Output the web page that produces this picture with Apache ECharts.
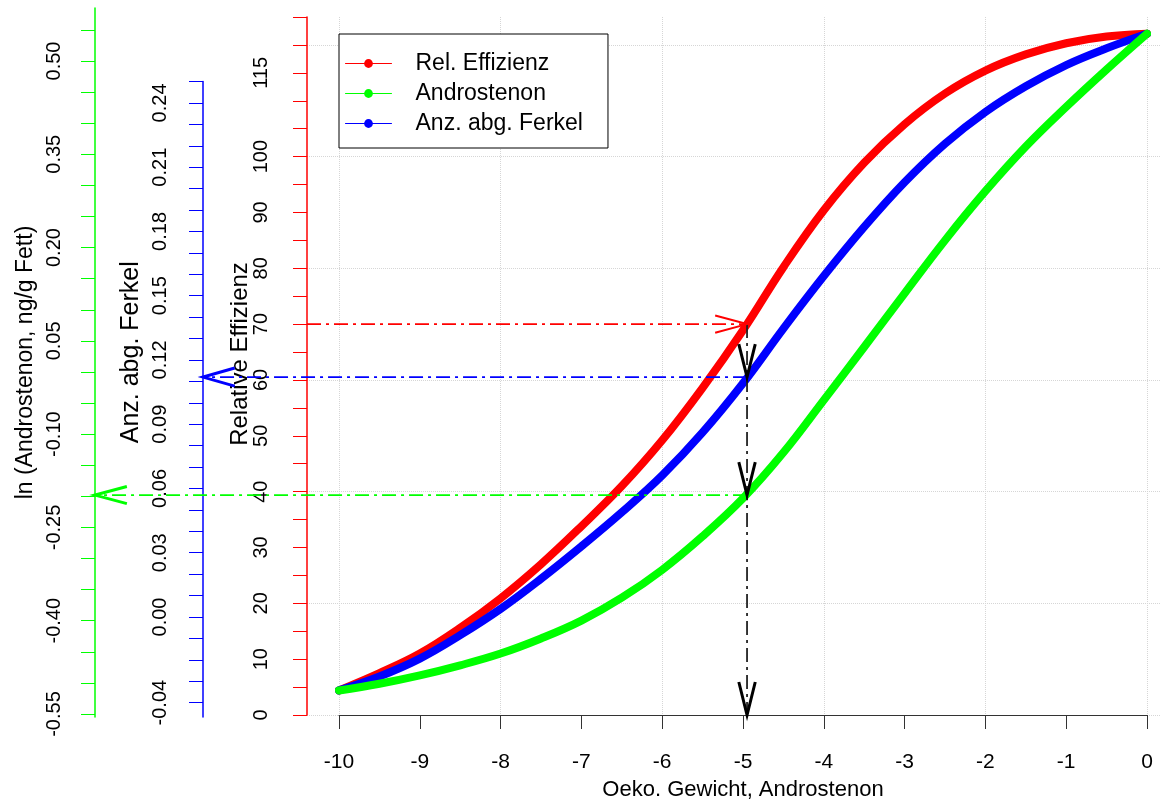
<!DOCTYPE html>
<html><head><meta charset="utf-8">
<script src="https://cdn.jsdelivr.net/npm/echarts@6/dist/echarts.min.js"></script>
<style>html,body{margin:0;padding:0;background:#fff}#c{width:1160px;height:805px}</style>
</head><body><div id="c"></div>
<script>
// ---- data ----
const xValues      = [-10, -9.5, -9, -8.5, -8, -7.5, -7, -6.5, -6, -5.5, -5, -4.5, -4, -3.5, -3, -2.5, -2, -1.5, -1, -0.5, 0];
const relEffizienz = [4.4, 7.5, 11.0, 15.6, 20.9, 27.0, 33.8, 41.0, 49.2, 58.6, 68.9, 80.2, 90.4, 98.9, 105.8, 111.3, 115.4, 118.3, 120.3, 121.5, 122.0];
const anzFerkel    = [4.4, 6.9, 10.1, 14.3, 19.0, 24.4, 30.2, 36.3, 42.9, 50.6, 59.4, 69.2, 78.6, 87.4, 95.4, 102.3, 108.0, 112.6, 116.4, 119.4, 122.0];
const androstenon  = [4.4, 5.6, 7.1, 8.9, 11.0, 13.7, 16.9, 21.0, 26.0, 32.0, 38.8, 47.0, 56.4, 65.9, 75.5, 85.0, 93.8, 101.8, 108.9, 115.6, 122.0];

const xTickStep       = 1;
const redTickLabels   = [0, 10, 20, 30, 40, 50, 60, 70, 80, 90, 100, 115];
const blueTickLabels  = [-0.04, 0.00, 0.03, 0.06, 0.09, 0.12, 0.15, 0.18, 0.21, 0.24];
const greenTickLabels = [-0.55, -0.40, -0.25, -0.10, 0.05, 0.20, 0.35, 0.50];
const blueTicks  = [-0.04,-0.03,-0.02,-0.01,0,0.01,0.02,0.03,0.04,0.05,0.06,0.07,0.08,0.09,0.10,0.11,0.12,0.13,0.14,0.15,0.16,0.17,0.18,0.19,0.20,0.21,0.22,0.23,0.24,0.25];
const greenTicks = [-0.55,-0.50,-0.45,-0.40,-0.35,-0.30,-0.25,-0.20,-0.15,-0.10,-0.05,0,0.05,0.10,0.15,0.20,0.25,0.30,0.35,0.40,0.45,0.50,0.55];

// read-off point and the levels on each axis
const lookupX    = -4.95;
const redLevel   = 70;
const blueLevel  = 0.112;
const greenLevel = -0.198;

const FONT = '"Liberation Sans", Arial, Helvetica, sans-serif';
const RED = '#ff0000', GREEN = '#00ff00', BLUE = '#0000ff';

const chart = echarts.init(document.getElementById('c'), null, {renderer: 'canvas'});

function hiddenX(gridIndex) {
  return {type: 'value', gridIndex, min: 0, max: 1, show: false};
}
function sideAxis(o) {
  return {
    type: 'value', gridIndex: o.grid, position: 'left', offset: o.offset || 0,
    min: o.min, max: o.max, interval: o.interval,
    axisLine: {show: true, onZero: false, lineStyle: {color: o.color, width: 1.5}},
    axisTick: {show: true, length: 14, inside: false, lineStyle: {color: o.color, width: 1}, customValues: o.ticks},
    axisLabel: {show: true, customValues: o.labels, formatter: o.fmt, rotate: 90, margin: o.margin,
                color: '#000', fontSize: 20, fontFamily: FONT},
    splitLine: {show: false},
    name: o.name, nameLocation: 'middle', nameGap: o.nameGap, nameRotate: 90, nameMoveOverlap: false,
    nameTextStyle: {color: '#000', fontSize: o.nameSize, fontFamily: FONT, padding: o.namePad || 0}
  };
}

const gridBase = {containLabel: false, outerBoundsMode: 'none', show: false};
const option = {
  animation: false,
  backgroundColor: '#fff',
  textStyle: {fontFamily: FONT},
  grid: [
    Object.assign({left: 339, right: 13, top: 17, bottom: 90}, gridBase),   // 0 main plot
    Object.assign({left: 307, right: 0, top: 45, bottom: 90}, gridBase),    // 1 horizontal guide lines
    Object.assign({left: 203, width: 20, top: 81.5, bottom: 88}, gridBase), // 2 blue axis
    Object.assign({left: 95, width: 20, top: 8, bottom: 88}, gridBase)      // 3 green axis
  ],
  xAxis: [
    {type: 'value', gridIndex: 0, min: -10, max: 0, interval: xTickStep,
     axisLine: {show: true, onZero: false, lineStyle: {color: '#333', width: 1}},
     axisTick: {show: true, length: 14, lineStyle: {color: '#333'}},
     axisLabel: {color: '#000', fontSize: 21, margin: 37, fontFamily: FONT},
     splitLine: {show: false},
     name: 'Oeko. Gewicht, Androstenon', nameLocation: 'middle', nameGap: 64, nameMoveOverlap: false,
     nameTextStyle: {color: '#000', fontSize: 22, fontFamily: FONT}},
    {type: 'value', gridIndex: 0, min: -10, max: 0, interval: 2,
     axisLine: {show: false}, axisTick: {show: false}, axisLabel: {show: false},
     splitLine: {show: true, lineStyle: {color: '#d6d6d6', type: 'dotted', width: 1}}},
    hiddenX(1), hiddenX(2), hiddenX(3)
  ],
  yAxis: [
    {type: 'value', gridIndex: 1, min: 0, max: 120, interval: 20,
     axisLine: {show: false}, axisTick: {show: false}, axisLabel: {show: false},
     splitLine: {show: true, lineStyle: {color: '#d6d6d6', type: 'dotted', width: 1}}},
    sideAxis({grid: 0, offset: 32, color: RED, min: 0, max: 125, interval: 5,
              ticks: null, labels: redTickLabels, fmt: v => String(v), margin: 36,
              name: 'Relative Effizienz', nameSize: 24, nameGap: 55, namePad: [0, 0, 0, 24]}),
    sideAxis({grid: 2, color: BLUE, min: -0.0467, max: 0.25,
              ticks: blueTicks, labels: blueTickLabels, fmt: v => v.toFixed(2), margin: 33,
              name: 'Anz. abg. Ferkel', nameSize: 25, nameGap: 59, namePad: [0, 0, 0, 94]}),
    sideAxis({grid: 3, color: GREEN, min: -0.5548, max: 0.5852,
              ticks: greenTicks, labels: greenTickLabels, fmt: v => v.toFixed(2), margin: 31,
              name: 'ln (Androstenon, ng/g Fett)', nameSize: 23, nameGap: 58, namePad: 0})
  ],
  legend: {
    orient: 'vertical', left: 339, top: 34,
    data: ['Rel. Effizienz', 'Androstenon', 'Anz. abg. Ferkel'],
    itemWidth: 46, itemHeight: 11, itemGap: 7,
    padding: [18, 25, 13, 6],
    borderColor: '#000', borderWidth: 1, borderRadius: 0, backgroundColor: '#fff',
    textStyle: {fontSize: 23, lineHeight: 21, color: '#000', fontFamily: FONT, padding: [0, 0, 0, 19]},
    lineStyle: {width: 1},
    selectedMode: false, z: 5
  },
  series: [
    {name: 'Rel. Effizienz', type: 'line', xAxisIndex: 0, yAxisIndex: 1,
     data: xValues.map((x, i) => [x, relEffizienz[i]]), smooth: 0.4,
     symbol: 'circle', symbolSize: 9, showSymbol: false,
     lineStyle: {width: 8, color: RED, cap: 'round', join: 'round'}, itemStyle: {color: RED}, z: 3},
    {name: 'Anz. abg. Ferkel', type: 'line', xAxisIndex: 0, yAxisIndex: 1,
     data: xValues.map((x, i) => [x, anzFerkel[i]]), smooth: 0.4,
     symbol: 'circle', symbolSize: 9, showSymbol: false,
     lineStyle: {width: 8, color: BLUE, cap: 'round', join: 'round'}, itemStyle: {color: BLUE}, z: 3},
    {name: 'Androstenon', type: 'line', xAxisIndex: 0, yAxisIndex: 1,
     data: xValues.map((x, i) => [x, androstenon[i]]), smooth: 0.4,
     symbol: 'circle', symbolSize: 9, showSymbol: false,
     lineStyle: {width: 8, color: GREEN, cap: 'round', join: 'round'}, itemStyle: {color: GREEN}, z: 3}
  ]
};
chart.setOption(option);

// ---- read-off arrows, placed through the axes' own scales ----
const xC   = chart.convertToPixel({xAxisIndex: 0}, lookupX);
const yR   = chart.convertToPixel({yAxisIndex: 1}, redLevel);
const yB   = chart.convertToPixel({yAxisIndex: 2}, blueLevel);
const yG   = chart.convertToPixel({yAxisIndex: 3}, greenLevel);
const y0   = chart.convertToPixel({yAxisIndex: 1}, 0);
const xRed = chart.convertToPixel({xAxisIndex: 2}, 0);
const xBlu = chart.convertToPixel({xAxisIndex: 3}, 0);
const xGrn = chart.convertToPixel({xAxisIndex: 4}, 0);

function arrowHead(tx, ty, dx, dy, len, angDeg, color, w) {
  const a = angDeg * Math.PI / 180, bx = -dx, by = -dy;
  const rot = t => [tx + len * (bx * Math.cos(t) - by * Math.sin(t)), ty + len * (bx * Math.sin(t) + by * Math.cos(t))];
  return {type: 'polyline', silent: true, z: 20,
          shape: {points: [rot(a), [tx, ty], rot(-a)]},
          style: {stroke: color, lineWidth: w, fill: null}};
}
function dashLine(x1, y1, x2, y2, color) {
  return {type: 'line', silent: true, z: 19, shape: {x1, y1, x2, y2},
          style: {stroke: color, lineWidth: 1.8, lineDash: [14, 5, 3, 5]}};
}
chart.setOption({graphic: [
  dashLine(xRed, yR, xC, yR, RED),
  dashLine(xC, yB, xBlu, yB, BLUE),
  dashLine(xC, yG, xGrn, yG, GREEN),
  dashLine(xC, yR, xC, y0, '#222'),
  arrowHead(xC, yR, 1, 0, 33, 15, RED, 2),
  arrowHead(xBlu, yB, -1, 0, 33, 16, BLUE, 3),
  arrowHead(xGrn, yG, -1, 0, 33, 15, GREEN, 3),
  arrowHead(xC, yB, 0, 1, 34, 14, '#000', 3),
  arrowHead(xC, yG, 0, 1, 34, 14, '#000', 3),
  arrowHead(xC, y0, 0, 1, 34, 14, '#000', 3)
]});
</script></body></html>
